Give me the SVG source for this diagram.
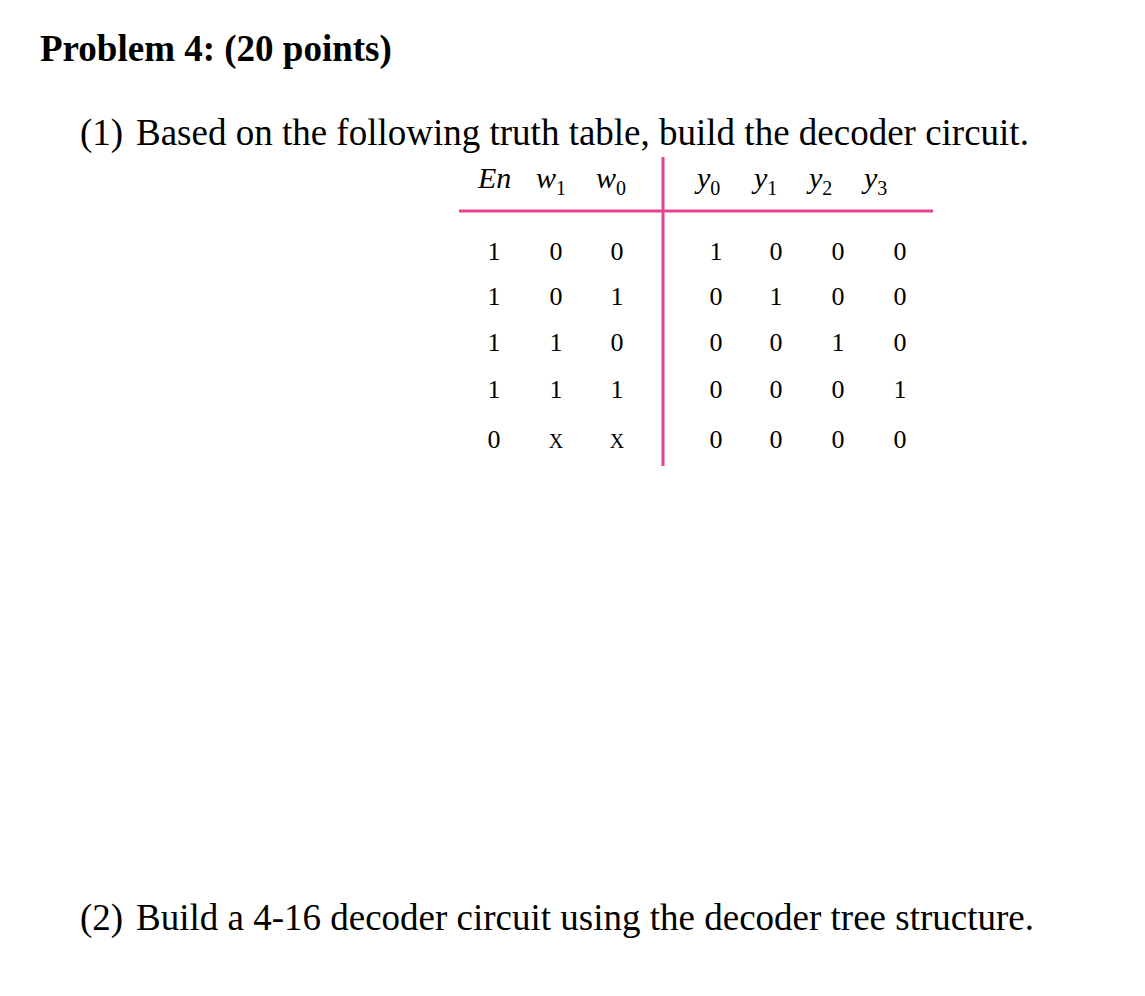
<svg xmlns="http://www.w3.org/2000/svg" width="1145" height="996" viewBox="0 0 1145 996">
<style>
text{font-family:"Liberation Serif","Times New Roman",serif;fill:#000}
.t{font-size:37px;font-weight:bold}
.b{font-size:37px}
.h{font-size:30px;font-style:italic}
.s{font-size:20px;font-style:normal}
.d{font-size:26px;text-anchor:middle}
</style>
<rect width="1145" height="996" fill="#fff"/>
<text class="t" x="40" y="61">Problem 4: (20 points)</text>
<text class="b" x="80" y="145">(1)</text>
<text class="b" x="136" y="145">Based on the following truth table, build the decoder circuit.</text>
<g id="table">
<text class="h" x="478" y="188">En</text>
<text class="h" x="536" y="188">w<tspan class="s" dy="7">1</tspan></text>
<text class="h" x="596" y="188">w<tspan class="s" dy="7">0</tspan></text>
<text class="h" x="697" y="188">y<tspan class="s" dy="7">0</tspan></text>
<text class="h" x="754" y="188">y<tspan class="s" dy="7">1</tspan></text>
<text class="h" x="809" y="188">y<tspan class="s" dy="7">2</tspan></text>
<text class="h" x="864" y="188">y<tspan class="s" dy="7">3</tspan></text>
<line x1="459" y1="211" x2="933" y2="211" stroke="#e8438f" stroke-width="3"/>
<line x1="663" y1="157" x2="663" y2="466" stroke="#e8438f" stroke-width="3"/>
<g class="rows">
<text class="d" y="260"><tspan x="494">1</tspan><tspan x="556">0</tspan><tspan x="617">0</tspan><tspan x="716">1</tspan><tspan x="776">0</tspan><tspan x="838">0</tspan><tspan x="900">0</tspan></text>
<text class="d" y="305"><tspan x="494">1</tspan><tspan x="556">0</tspan><tspan x="617">1</tspan><tspan x="716">0</tspan><tspan x="776">1</tspan><tspan x="838">0</tspan><tspan x="900">0</tspan></text>
<text class="d" y="351"><tspan x="494">1</tspan><tspan x="556">1</tspan><tspan x="617">0</tspan><tspan x="716">0</tspan><tspan x="776">0</tspan><tspan x="838">1</tspan><tspan x="900">0</tspan></text>
<text class="d" y="398"><tspan x="494">1</tspan><tspan x="556">1</tspan><tspan x="617">1</tspan><tspan x="716">0</tspan><tspan x="776">0</tspan><tspan x="838">0</tspan><tspan x="900">1</tspan></text>
<text class="d" y="448"><tspan x="494">0</tspan><tspan x="556" font-size="20">X</tspan><tspan x="617" font-size="20">X</tspan><tspan x="716">0</tspan><tspan x="776">0</tspan><tspan x="838">0</tspan><tspan x="900">0</tspan></text>
</g>
</g>
<text class="b" x="80" y="930">(2)</text>
<text class="b" x="136" y="930">Build a 4-16 decoder circuit using the decoder tree structure.</text>
</svg>
